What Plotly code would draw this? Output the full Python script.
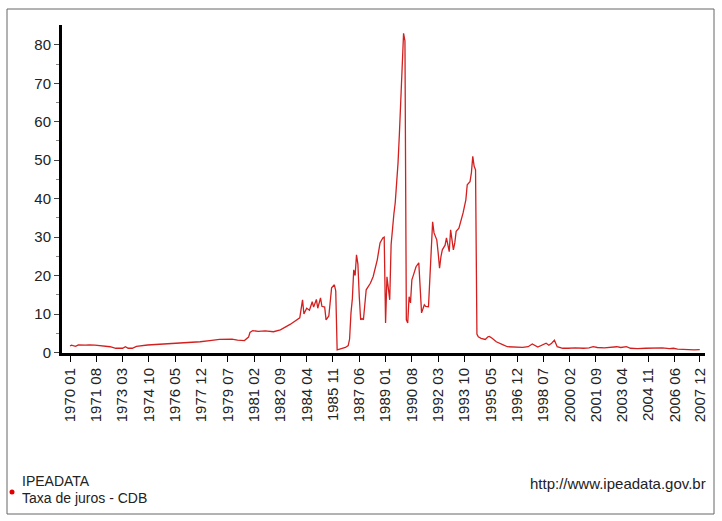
import plotly.graph_objects as go

# ---- data (monthly CDB rate, % per month; key points) ----
months = [
    "1970 01", "1970 02", "1970 05", "1970 07", "1970 12", "1971 03", "1971 07", "1971 11",
    "1972 06", "1972 10", "1973 03", "1973 05", "1973 07", "1973 10", "1974 01", "1974 09",
    "1975 11", "1976 05", "1976 11", "1977 11", "1978 06", "1979 01", "1979 10", "1980 02",
    "1980 07", "1980 10", "1980 11", "1981 01", "1981 05", "1981 10", "1982 04", "1982 09",
    "1983 04", "1983 09", "1983 11", "1984 01", "1984 02", "1984 04", "1984 06", "1984 08",
    "1984 09", "1984 11", "1984 12", "1985 02", "1985 03", "1985 05", "1985 06", "1985 08",
    "1985 10", "1985 12", "1986 01", "1986 02", "1986 04", "1986 08", "1986 10", "1986 11",
    "1986 12", "1987 01", "1987 02", "1987 03", "1987 04", "1987 05", "1987 06", "1987 07",
    "1987 08", "1987 09", "1987 11", "1988 02", "1988 04", "1988 07", "1988 09", "1988 11",
    "1988 12", "1989 01", "1989 02", "1989 03", "1989 04", "1989 05", "1989 06", "1989 07",
    "1989 08", "1989 09", "1989 10", "1989 11", "1989 12", "1990 01", "1990 02", "1990 03",
    "1990 04", "1990 05", "1990 06", "1990 07", "1990 08", "1990 09", "1990 11", "1991 01",
    "1991 02", "1991 03", "1991 05", "1991 06", "1991 08", "1991 09", "1991 10", "1991 11",
    "1991 12", "1992 02", "1992 03", "1992 04", "1992 05", "1992 06", "1992 08", "1992 09",
    "1992 11", "1992 12", "1993 02", "1993 03", "1993 04", "1993 06", "1993 09", "1993 10",
    "1993 11", "1993 12", "1994 02", "1994 03", "1994 04", "1994 05", "1994 06", "1994 07",
    "1994 08", "1994 10", "1995 01", "1995 03", "1995 04", "1995 06", "1995 09", "1996 02",
    "1996 05", "1997 04", "1997 08", "1997 11", "1998 03", "1998 09", "1998 11", "1999 01",
    "1999 03", "1999 05", "1999 09", "2000 01", "2000 06", "2000 12", "2001 04", "2001 07",
    "2001 10", "2002 03", "2002 08", "2002 12", "2003 03", "2003 07", "2003 10", "2004 03",
    "2004 09", "2005 03", "2005 09", "2006 02", "2006 05", "2006 08", "2007 02", "2007 08",
    "2007 12",
]
rate = [
    1.7, 1.9, 1.6, 2.0, 1.9, 2.0, 1.9, 1.7,
    1.5, 1.1, 1.1, 1.5, 1.1, 1.1, 1.6, 1.95,
    2.2, 2.5, 2.6, 2.8, 3.1, 3.4, 3.5, 3.2,
    3.1, 4.0, 5.2, 5.7, 5.5, 5.6, 5.4, 5.9,
    7.3, 8.5, 9.0, 13.7, 10.0, 11.5, 11.0, 13.2,
    11.8, 13.8, 11.5, 14.2, 12.0, 11.8, 8.5, 9.5,
    16.8, 17.6, 16.0, 0.7, 0.9, 1.3, 1.8, 3.5,
    10.3, 14.0, 21.5, 20.0, 25.4, 23.0, 14.5, 8.5,
    8.8, 8.5, 16.3, 18.0, 19.7, 24.1, 28.5, 29.8,
    30.0, 7.7, 19.7, 16.3, 13.7, 28.0, 33.0, 36.0,
    39.0, 44.0, 49.3, 57.0, 66.0, 77.0, 83.0, 81.0,
    8.5, 7.7, 14.5, 12.9, 18.9, 20.0, 22.3, 23.3,
    16.3, 10.3, 12.4, 12.0, 11.9, 18.9, 25.9, 34.0,
    31.1, 29.3, 25.9, 21.9, 24.9, 26.7, 27.9, 29.8,
    26.2, 31.9, 26.7, 28.5, 31.5, 32.3, 36.3, 38.0,
    39.7, 43.6, 44.4, 46.7, 51.0, 48.4, 47.5, 4.8,
    4.1, 3.7, 3.4, 4.1, 4.2, 3.7, 2.8, 2.0,
    1.5, 1.35, 1.5, 2.2, 1.4, 2.4, 1.9, 2.4,
    3.2, 1.5, 1.1, 1.1, 1.2, 1.1, 1.2, 1.5,
    1.3, 1.2, 1.3, 1.5, 1.3, 1.5, 1.1, 1.0,
    1.1, 1.1, 1.2, 1.0, 1.1, 0.9, 0.75, 0.7,
    0.75,
]
tick_labels = [
    "1970 01", "1971 08", "1973 03", "1974 10", "1976 05", "1977 12", "1979 07", "1981 02",
    "1982 09", "1984 04", "1985 11", "1987 06", "1989 01", "1990 08", "1992 03", "1993 10",
    "1995 05", "1996 12", "1998 07", "2000 02", "2001 09", "2003 04", "2004 11", "2006 06",
    "2007 12",
]
y_ticks = [0, 10, 20, 30, 40, 50, 60, 70, 80]


def month_index(label):
    y, m = label.split()
    return (int(y) - 1970) * 12 + int(m) - 1


x_vals = [month_index(m) for m in months]
tick_pos = [month_index(t) for t in tick_labels]

W, H = 722, 521
L, R, T, B = 62, 17, 25, 168
PW, PH = W - L - R, H - T - B


def px(x):
    return (x - L) / PW


def py(y):
    return (H - B - y) / PH


fig = go.Figure()
fig.add_trace(go.Scatter(
    x=x_vals, y=rate, mode="lines",
    line=dict(color="#d41f1f", width=1.3),
    hoverinfo="skip", showlegend=False,
))

font_main = "Liberation Sans, Arial, sans-serif"
font_ticks = "Liberation Sans, Arial, sans-serif"

fig.update_layout(
    width=W, height=H,
    margin=dict(l=L, r=R, t=T, b=B, pad=0),
    paper_bgcolor="white", plot_bgcolor="white",
    xaxis=dict(
        range=[-5.8, 458.8],
        tickmode="array", tickvals=tick_pos, ticktext=tick_labels,
        tickangle=-90, ticks="outside", ticklen=6, tickwidth=1, tickcolor="#000",
        showline=True, linecolor="#000", linewidth=3,
        showgrid=False, zeroline=False,
        tickfont=dict(family=font_ticks, size=15, color="#222"),
    ),
    yaxis=dict(
        range=[-0.13, 85.15],
        tickmode="array", tickvals=y_ticks,
        ticks="outside", ticklen=5, tickwidth=1, tickcolor="#444",
        minor=dict(tickmode="array", tickvals=[5, 15, 25, 35, 45, 55, 65, 75],
                   ticks="outside", ticklen=3, tickcolor="#888", tickwidth=1),
        showline=True, linecolor="#000", linewidth=3,
        showgrid=False, zeroline=False,
        tickfont=dict(family=font_ticks, size=15, color="#222"),
    ),
    shapes=[
        dict(type="rect", xref="paper", yref="paper",
             x0=px(7), x1=px(714), y0=py(514), y1=py(9),
             line=dict(color="#666", width=1), fillcolor="rgba(0,0,0,0)", layer="below"),
        dict(type="circle", xref="paper", yref="paper",
             x0=px(9.5), x1=px(14.5), y0=py(494.5), y1=py(489.5),
             line=dict(color="#e00000", width=0), fillcolor="#e00000"),
    ],
    annotations=[
        dict(text="IPEADATA", xref="paper", yref="paper", x=px(21), y=py(481),
             xanchor="left", yanchor="middle", showarrow=False, borderpad=0,
             font=dict(family=font_main, size=14, color="#222")),
        dict(text="Taxa de juros - CDB", xref="paper", yref="paper", x=px(21), y=py(498),
             xanchor="left", yanchor="middle", showarrow=False, borderpad=0,
             font=dict(family=font_main, size=14, color="#222")),
        dict(text="http://www.ipeadata.gov.br", xref="paper", yref="paper", x=px(708), y=py(483),
             xanchor="right", yanchor="middle", showarrow=False,
             font=dict(family=font_main, size=15, color="#222")),
    ],
)

fig.write_html(
    "out.html",
    config={"displayModeBar": False, "staticPlot": True},
    post_script="document.body.style.margin='0';document.body.style.padding='0';",
)
